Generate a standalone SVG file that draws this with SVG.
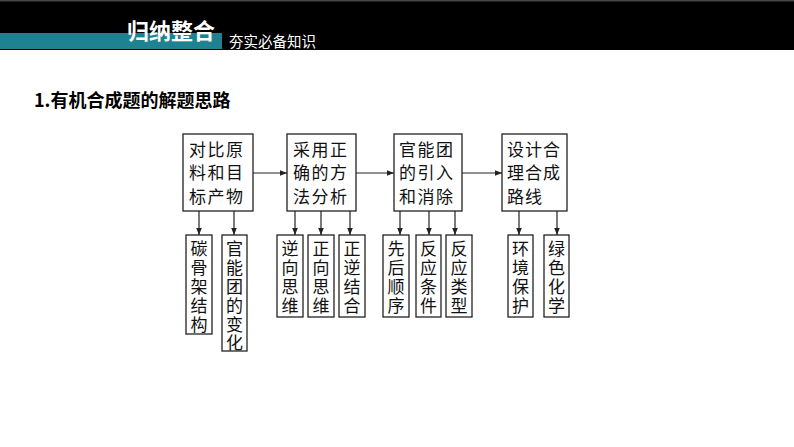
<svg xmlns="http://www.w3.org/2000/svg" width="794" height="447" viewBox="0 0 794 447">
<style>
.box{fill:#fff;stroke:#222;stroke-width:1.3}
.t{font-family:"Liberation Serif","Noto Sans CJK SC",serif;font-size:17px;fill:#111}
.v{font-family:"Liberation Serif","Noto Sans CJK SC",serif;font-size:17px;fill:#111;text-anchor:middle}
.ln{stroke:#222;stroke-width:1.2;fill:none;marker-end:url(#ah)}
</style>
<defs>
<marker id="ah" viewBox="0 0 10 10" refX="10" refY="5" markerWidth="7" markerHeight="7" orient="auto" markerUnits="userSpaceOnUse"><path d="M0,1 L10,5 L0,9 z" fill="#222"/></marker>
</defs>
<rect width="794" height="447" fill="#fff"/>
<g id="header">
<rect x="0" y="0" width="794" height="50" fill="#000"/>
<rect x="0" y="0" width="794" height="1.5" fill="#444"/>
<rect x="0" y="33" width="222" height="16" fill="#1f8290"/>
<text x="127" y="39" font-family="'Noto Sans CJK SC',sans-serif" font-weight="bold" font-size="22" fill="#fff">归纳整合</text>
<text x="229" y="47" font-family="'Noto Sans CJK SC',sans-serif" font-size="14.5" fill="#fff">夯实必备知识</text>
</g>
<text id="title" x="34" y="107" font-family="'Noto Sans CJK SC',sans-serif" font-weight="bold" font-size="18" fill="#000">1.有机合成题的解题思路</text>
<g id="connectors">
<line class="ln" x1="253" y1="173" x2="287" y2="173"/>
<line class="ln" x1="356" y1="173" x2="394" y2="173"/>
<line class="ln" x1="462" y1="173" x2="502" y2="173"/>
<line class="ln" x1="199" y1="211" x2="199" y2="235"/>
<line class="ln" x1="234" y1="211" x2="234" y2="235"/>
<line class="ln" x1="295" y1="211" x2="295" y2="235"/>
<line class="ln" x1="321" y1="211" x2="321" y2="235"/>
<line class="ln" x1="350" y1="211" x2="350" y2="235"/>
<line class="ln" x1="400" y1="211" x2="400" y2="235"/>
<line class="ln" x1="429" y1="211" x2="429" y2="235"/>
<line class="ln" x1="455" y1="211" x2="455" y2="235"/>
<line class="ln" x1="519" y1="211" x2="519" y2="235"/>
<line class="ln" x1="557" y1="211" x2="557" y2="235"/>
</g>
<g id="n1"><rect class="box" x="183" y="134" width="70" height="77"/>
<text class="t" x="189" y="156" letter-spacing="1.5">对比原</text><text class="t" x="189" y="179" letter-spacing="1.5">料和目</text><text class="t" x="189" y="203" letter-spacing="1.5">标产物</text></g>
<g id="n2"><rect class="box" x="287" y="134" width="69" height="77"/>
<text class="t" x="293" y="156" letter-spacing="1.5">采用正</text><text class="t" x="293" y="179" letter-spacing="1.5">确的方</text><text class="t" x="293" y="203" letter-spacing="1.5">法分析</text></g>
<g id="n3"><rect class="box" x="394" y="134" width="68" height="77"/>
<text class="t" x="399" y="156" letter-spacing="1.5">官能团</text><text class="t" x="399" y="179" letter-spacing="1.5">的引入</text><text class="t" x="399" y="203" letter-spacing="1.5">和消除</text></g>
<g id="n4"><rect class="box" x="502" y="134" width="65" height="77"/>
<text class="t" x="507" y="156" letter-spacing="1">设计合</text><text class="t" x="507" y="179" letter-spacing="1">理合成</text><text class="t" x="507" y="203" letter-spacing="1">路线</text></g>
<g id="s1"><rect class="box" x="186" y="235" width="26" height="99"/>
<text class="v" x="199" y="255">碳</text><text class="v" x="199" y="274">骨</text><text class="v" x="199" y="293">架</text><text class="v" x="199" y="312">结</text><text class="v" x="199" y="331">构</text></g>
<g id="s2"><rect class="box" x="222" y="235" width="25" height="116"/>
<text class="v" x="234.5" y="255">官</text><text class="v" x="234.5" y="274">能</text><text class="v" x="234.5" y="293">团</text><text class="v" x="234.5" y="312">的</text><text class="v" x="234.5" y="331">变</text><text class="v" x="234.5" y="349">化</text></g>
<g id="s3"><rect class="box" x="277" y="235" width="26" height="82"/>
<text class="v" x="290" y="255">逆</text><text class="v" x="290" y="274">向</text><text class="v" x="290" y="293">思</text><text class="v" x="290" y="312">维</text></g>
<g id="s4"><rect class="box" x="308" y="235" width="26" height="82"/>
<text class="v" x="321" y="255">正</text><text class="v" x="321" y="274">向</text><text class="v" x="321" y="293">思</text><text class="v" x="321" y="312">维</text></g>
<g id="s5"><rect class="box" x="339" y="235" width="26" height="82"/>
<text class="v" x="352" y="255">正</text><text class="v" x="352" y="274">逆</text><text class="v" x="352" y="293">结</text><text class="v" x="352" y="312">合</text></g>
<g id="s6"><rect class="box" x="383" y="235" width="26" height="82"/>
<text class="v" x="396" y="255">先</text><text class="v" x="396" y="274">后</text><text class="v" x="396" y="293">顺</text><text class="v" x="396" y="312">序</text></g>
<g id="s7"><rect class="box" x="416" y="235" width="25" height="82"/>
<text class="v" x="428.5" y="255">反</text><text class="v" x="428.5" y="274">应</text><text class="v" x="428.5" y="293">条</text><text class="v" x="428.5" y="312">件</text></g>
<g id="s8"><rect class="box" x="446" y="235" width="26" height="82"/>
<text class="v" x="459" y="255">反</text><text class="v" x="459" y="274">应</text><text class="v" x="459" y="293">类</text><text class="v" x="459" y="312">型</text></g>
<g id="s9"><rect class="box" x="508" y="235" width="25" height="82"/>
<text class="v" x="520.5" y="255">环</text><text class="v" x="520.5" y="274">境</text><text class="v" x="520.5" y="293">保</text><text class="v" x="520.5" y="312">护</text></g>
<g id="s10"><rect class="box" x="544" y="235" width="25" height="82"/>
<text class="v" x="556.5" y="255">绿</text><text class="v" x="556.5" y="274">色</text><text class="v" x="556.5" y="293">化</text><text class="v" x="556.5" y="312">学</text></g>
</svg>
